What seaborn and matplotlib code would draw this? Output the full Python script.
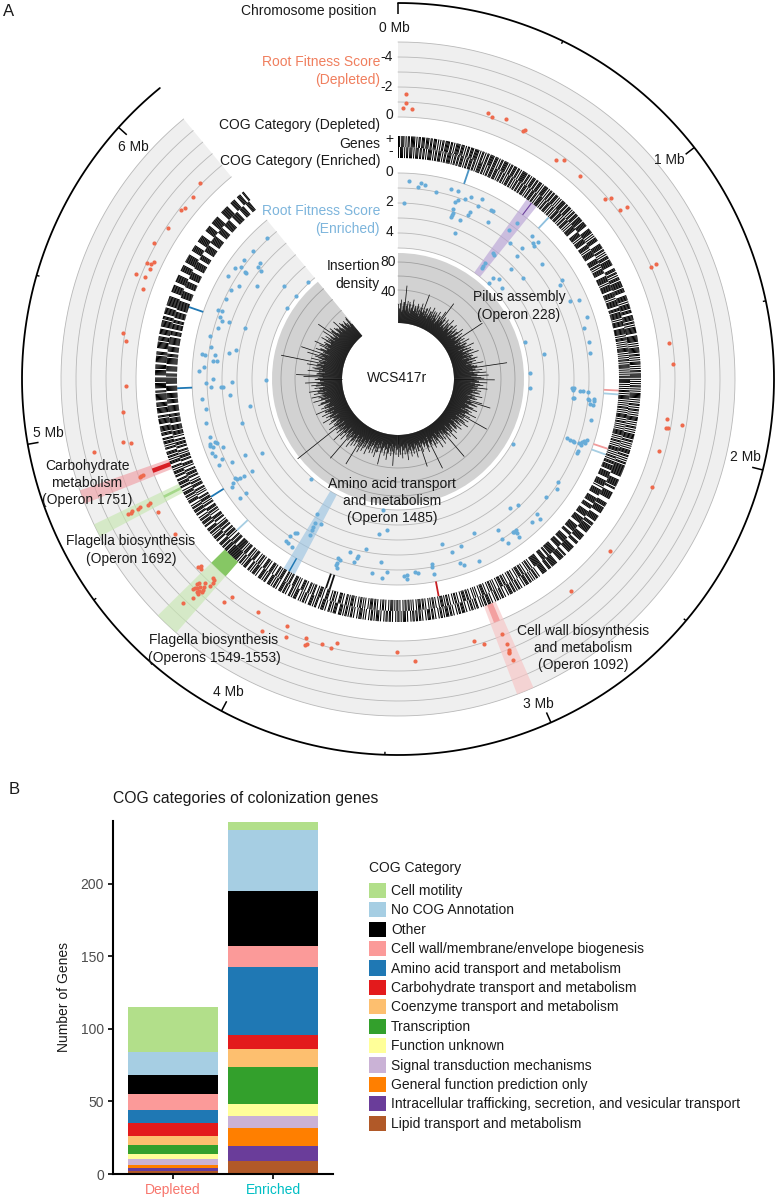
import numpy as np
import pandas as pd
import seaborn as sns
import matplotlib.pyplot as plt
from matplotlib.patches import Patch

W, H = 778, 1199

# positions on the ring are in degrees, 52 deg = 1 Mb, genome ends at 320.5 deg
mb_major = [0, 1, 2, 3, 4, 5, 6]
mb_labels = ["0 Mb", "1 Mb", "2 Mb", "3 Mb", "4 Mb", "5 Mb", "6 Mb"]
mb_minor = [0.5, 1.5, 2.5, 3.5, 4.5, 5.5]

dep_pos = [1.7, 1.7, 1.0, 3.0, 18.6, 19.8, 22.6, 26.8, 27, 35.8, 37.2, 41.8, 49, 49.6, 52.8, 53.1, 66.2, 66, 82.5, 86.9,
           98.5, 99.2, 100.4, 100.3, 105.5, 113.1, 129, 140.8, 157.8, 157.6, 157.8, 157.7, 158, 157.7, 163.9, 162.1,
           180.2, 176.5, 193.1, 193.9, 195.9, 199.6, 198.9, 199.2, 204.1, 203.5, 210.9, 208.4, 217.3, 218, 223.8, 223.1,
           224.1, 223.4, 223.6, 222.7, 222.9, 222.7, 224.4, 224.3, 224.3, 223.5, 222.3, 222.8, 222.3, 222.5, 223.9, 223.2, 223,
           226.8, 226.5, 226, 235.2, 241, 243.5, 243.3, 243.7, 243.4, 243.7, 243.4, 243.4, 249.3, 249.1, 249.3,
           256.5, 257, 256.5, 263.1, 268.5, 278, 279.4, 289.4, 292, 291.8, 294, 294.8, 295, 295.6, 299.1, 303.2, 307.9, 308.8,
           311.6, 314.8]
dep_score = [-1.53, -0.93, -0.6, -0.53, -1.27, -1.07, -1.33, -1.07, -1.13, -0.53, -0.87, -0.73, -0.8, -1.2, -1.13, -1.6, -1, -1.37, -0.73, -0.87,
             -0.67, -1.73, -0.67, -0.8, -0.6, -0.93, -0.73, -0.73, -0.87, -1.67, -2.17, -2.07, -2.2, -2.77, -0.73, -1.1,
             -0.73, -1.37, -0.6, -1, -0.93, -0.87, -1.2, -1.33, -0.6, -1.27, -0.67, -1.63, -0.8, -1.4, -3.2, -2.53,
             -1.97, -2.07, -1.67, -1.83, -2.09, -1.67, -1.67, -1.51, -2.13, -1.24, -1.2, -0.65, -0.89, -0.73, -1.87, -1.93, -1.53,
             -0.8, -0.64, -0.78, -0.6, -0.8, -1, -1.2, -1.73, -1.9, -2.33, -2.65, -2.47, -0.85, -0.93, -0.69,
             -3.4, -1.33, -0.87, -0.98, -0.69, -0.85, -1.13, -0.57, -0.73, -1.37, -0.64, -0.93, -0.73, -0.57, -1.13, -0.89, -0.89, -0.73,
             -0.8, -1.12]

enr_pos = [3.2, 2, 6, 6.6, 7.9, 11.6, 15.6, 17.8, 17.9, 18.6, 20.4, 21.8, 25, 24.9, 18, 18.5, 18, 18.1, 23.4, 23.2, 28.8, 29.6, 21.4, 30, 21.5,
           37.4, 36.7, 39.5, 37, 37.7, 36.9, 37, 36.9, 43.2, 45.6, 44.9, 45.6, 43.4, 44, 51.3, 45.6, 51.1, 43.2, 45.4, 43.5, 48.9,
           58.8, 59.8, 65.6, 66.5, 71.7, 74.6, 79.1, 82.3, 73.6, 80.4, 87.4, 94.1,
           93.1, 93.6, 92.8, 93.7, 93.6, 93.8, 96.1, 96, 95.8, 96.3, 96.3, 97.4, 97.6, 96.3, 102,
           109.1, 109.5, 109.5, 109.6, 109.5, 108.8, 108.4, 107.9, 109, 109.8, 111.7, 112.6, 119.4, 122.6, 124.7, 128.5,
           138.9, 136.5, 134.1, 134.6, 136.9, 146.4, 142.8, 142, 142.2, 142.9, 142.5, 147.1, 146.1, 153.7, 159.4, 165.2, 162.6,
           155.9, 161.5, 160.5, 169.5, 169.6, 169.6, 175, 174, 178.3, 177.5, 177.3,
           183.2, 184.3, 186.4, 187, 190.7, 195.5, 192.8, 193, 185.4, 193.4, 198.4, 197.8, 198.3, 198.4, 197.9, 187.7, 184.5,
           210.9, 208.1, 209.9, 209.8, 209.7, 209.4, 214.5, 213.7, 213.3, 214.7, 213.7, 212.4, 221,
           233.2, 233.1, 236.9, 237.7, 237.9, 238.1, 238.8, 237.9, 237.8, 241.3, 243.7, 243.6, 245.4, 244.3, 247.2, 248.2,
           249.7, 250.5, 250.9, 250.4, 250.9, 248.8, 252.8, 254.4, 257.2, 259.7, 261.1, 264.3, 264.6, 267.5, 267.5, 267.7,
           268.8, 268.9, 269.4, 269.9, 272.4, 273.4, 275.6, 275.6, 277.3, 277.1, 277.5, 278.8, 279.8, 280.3, 282.8, 285.9,
           288.4, 288.6, 288.3, 289.1, 291, 291.1, 294.9, 298, 300.3, 301.2, 302.7, 303.5, 304.3, 305.5, 304.9, 305,
           308.3, 308.6, 310, 309.2, 309.3, 307.6, 311.6, 317, 317.1]
enr_score = [0.6, 2.08, 0.91, 0.63, 0.74, 1.05, 0.63, 0.64, 1.38, 1.21, 0.97, 0.75, 0.59, 1.07, 1.86, 2.15, 2.47, 2.29, 1.69, 1.91, 0.94, 0.92, 2.41, 1.75, 3.37,
             0.69, 1.44, 2.07, 3.31, 3.35, 4.15, 4.35, 4.51, 0.72, 0.71, 1.03, 1.12, 1.8, 2.37, 1.52, 3.29, 3.07, 4.59, 4.31, 5, 4.57,
             1.03, 1.32, 1.18, 0.63, 0.55, 0.92, 0.83, 0.87, 5, 3.95, 5, 5,
             2.2, 2.09, 2.05, 1.64, 1.42, 1.13, 2.05, 1.04, 0.67, 0.99, 0.65, 0.89, 0.71, 2, 0.65,
             1.85, 1.63, 1.44, 1.33, 0.97, 0.87, 0.73, 0.54, 0.62, 0.83, 0.87, 0.9, 5, 1.11, 0.91, 1.2,
             2.41, 2.19, 0.9, 0.53, 0.71, 1.71, 0.97, 1.03, 0.83, 1.05, 0.52, 1.09, 0.65, 2.37, 1.93, 2.4, 1.71,
             0.51, 0.85, 0.67, 1.23, 1.08, 0.59, 0.87, 0.8, 0.64, 0.72, 0.47,
             0.89, 3.71, 5, 3.4, 2.25, 1.83, 1.72, 1.57, 1.57, 1.24, 1.2, 1.13, 0.9, 0.73, 0.53, 0.77, 0.49,
             3.29, 2.87, 2.7, 2.45, 2.2, 1.87, 1.09, 1.43, 1.49, 0.69, 0.63, 0.57, 5,
             1.15, 0.63, 0.6, 0.8, 1.36, 1.18, 1.1, 1.68, 2.28, 3.49, 2.42, 1.42, 0.92, 0.56, 0.57, 0.47,
             0.67, 0.97, 0.89, 0.49, 0.56, 1.31, 0.67, 2.98, 0.67, 3.77, 0.85, 0.65, 2.53, 2, 2.13, 1.3,
             0.98, 2.71, 5, 1.45, 0.52, 0.84, 1.43, 1.65, 0.65, 0.83, 1.49, 2.4, 1.15, 2.83, 0.95, 1.3,
             3.05, 1.93, 1.42, 1.24, 0.97, 1.25, 1.18, 1.19, 1.5, 0.57, 5, 2.55, 0.64, 0.91, 1.37, 1.47,
             2.13, 1.83, 1.75, 5, 4.01, 0.8, 0.91, 0.95, 5]

# insertion density, one value per degree (tall windows) ...
density = [24, 18, 30, 16, 27, 49, 22, 29, 14, 25, 20, 32, 17, 24, 21, 28, 15, 23, 30, 19,
           44, 21, 26, 16, 29, 18, 24, 31, 15, 22, 27, 19, 30, 16, 23, 34, 49, 20, 25, 17,
           28, 14, 23, 32, 18, 25, 16, 30, 21, 27, 15, 24, 33, 19, 29, 17, 59, 22, 28, 20,
           33, 18, 27, 23, 36, 21, 30, 17, 32, 24, 38, 20, 29, 26, 34, 22, 31, 25, 40, 23,
           31, 71, 28, 37, 24, 42, 30, 45, 29, 39, 53, 32, 43, 27, 38, 31, 44, 30, 36, 25,
           35, 24, 39, 29, 33, 22, 41, 53, 27, 36, 23, 32, 38, 21, 32, 28, 40, 25, 33, 60,
           26, 34, 20, 31, 37, 22, 29, 18, 32, 24, 27, 17, 30, 21, 25, 36, 19, 28, 23, 60,
           20, 27, 16, 31, 22, 18, 33, 21, 25, 15, 29, 19, 23, 57, 17, 24, 30, 18, 22, 16,
           27, 47, 19, 24, 15, 32, 21, 26, 17, 29, 20, 23, 33, 16, 25, 19, 30, 14, 22, 28,
           18, 25, 16, 40, 21, 27, 14, 23, 33, 19, 28, 17, 24, 41, 20, 15, 26, 33, 22, 29,
           18, 30, 21, 25, 34, 19, 27, 32, 22, 36, 29, 57, 24, 31, 20, 33, 26, 38, 23, 30,
           63, 28, 22, 35, 25, 32, 42, 23, 33, 27, 31, 95, 26, 38, 29, 22, 34, 30, 24, 40,
           28, 33, 23, 37, 27, 31, 43, 24, 34, 29, 22, 36, 32, 25, 41, 30, 33, 42, 27, 38,
           32, 44, 29, 36, 24, 40, 33, 48, 28, 35, 31, 50, 60, 33, 30, 45, 26, 39, 34, 47,
           34, 83, 32, 43, 29, 39, 50, 34, 60, 30, 41, 35, 27, 38, 46, 32, 34, 25, 40, 31,
           36, 28, 42, 24, 53, 33, 37, 22, 33, 30, 27, 39, 23, 32, 29, 20, 30, 25, 21, 32]

# ... and the windows in between, half a degree further on
density_low = [18, 25, 14, 22, 27, 16, 24, 19, 28, 13, 21, 26, 17, 23, 15, 25, 20, 12, 24, 18,
               22, 15, 26, 19, 13, 24, 17, 21, 27, 14, 23, 18, 12, 25, 20, 16, 22, 28, 13, 19,
               16, 24, 12, 21, 18, 26, 14, 20, 11, 23, 17, 25, 13, 19, 22, 15, 24, 18, 12, 21,
               15, 27, 19, 23, 13, 25, 18, 29, 21, 16, 24, 28, 14, 22, 30, 19, 26, 17, 23, 27,
               31, 24, 28, 20, 33, 26, 30, 22, 35, 25, 29, 32, 21, 34, 27, 24, 31, 23, 28, 33,
               22, 29, 18, 26, 31, 24, 20, 28, 33, 19, 25, 30, 22, 27, 17, 29, 24, 20, 26, 18,
               23, 15, 28, 20, 17, 25, 13, 22, 19, 26, 14, 21, 17, 24, 12, 20, 16, 23, 19, 13,
               18, 12, 24, 15, 20, 11, 22, 17, 13, 25, 14, 19, 21, 10, 18, 23, 12, 20, 15, 17,
               11, 20, 14, 24, 16, 12, 19, 22, 13, 21, 15, 10, 23, 17, 12, 20, 14, 25, 16, 11,
               19, 13, 23, 15, 11, 21, 17, 24, 12, 20, 14, 18, 22, 10, 19, 25, 13, 17, 21, 12,
               20, 15, 26, 18, 13, 24, 19, 16, 27, 21, 14, 23, 18, 25, 15, 22, 28, 17, 24, 19,
               16, 27, 21, 14, 25, 19, 23, 28, 17, 22, 26, 15, 29, 20, 24, 18, 27, 21, 25, 16,
               28, 22, 26, 19, 31, 24, 17, 29, 23, 27, 20, 32, 25, 18, 30, 22, 26, 24, 29, 21,
               33, 25, 30, 22, 34, 27, 31, 23, 28, 35, 24, 29, 26, 32, 22, 30, 36, 25, 28, 33,
               24, 30, 27, 22, 34, 25, 29, 32, 21, 28, 35, 26, 30, 23, 27, 31, 24, 33, 26, 29,
               22, 31, 25, 28, 20, 33, 26, 23, 30, 21, 28, 25, 19, 29, 24, 27, 22, 18, 30, 20]

# genes per strand, 1 = gene present in that 0.005 Mb bin
genes_plus = ("11011101011011110101101110111011011101010110111101101011110111"
              "01011011101111010110101101111011101011011110101101110110101111"
              "10110101110110111010111101011011011101010111101101110101101110"
              "11111011111000111110101011110001111101101010111011111100011101"
              "10101110111111011110001111101011111011100111110110101111110011"
              "11110101011111011010101110101011011110101010110101011111010101"
              "10101101010111101010110101011111011010101011110110101011011111"
              "11111100011111110110001111111000011110111111000111111001110111"
              "11110001111110011100011111110001101111100011111101110011111000"
              "10110101011011101001011010110111010010110101101001011101101010"
              "01101011010010111011010010110111010110100101101110100101101101"
              "10100101110101101001011011010010111010110100101011101001011010"
              "11010111001110101100101110100110101110010110101001110101100101"
              "10111001011010111001101011100101110101100111010110101111111111"
              "10111011011100110111010110111001101110110100110111011010011101"
              "01101110100110111011001101110101100111010110111001101011101100"
              "11101111100111110110011111011110011111101100111110111100111110"
              "11110011111101110001111110111100111110011111101110011111100111"
              "11111100001111111000111111100001111110001111111100001111110000"
              "11111110000011111100011111111000001111111100001111100011110011")
genes_minus = ("10111010110111010111011011010111101011011101011011110101101101"
               "11010110111011010111101101011011101110101101101011101101011011"
               "01101110101101110110101111010110111010110101110111010110111010"
               "10111110001111101011111001111010111111000111110110101111100011"
               "11110101111110011111010111111001110111111010111110011111101011"
               "10101010111101010101101011110101010110111101010101101011110101"
               "01011010101111010110101010111110101011010101111010101101011101"
               "11110011111100011111101001111110001111110011110001111110011111"
               "10001111111001110001111110011111000111111101100111100011111110"
               "01011010010110111010010110100101101110100101011010010111010010"
               "10100101101110100101101001011010111010010110101001011011101001"
               "01011011010010110101110100101101001011011101001010110100101110"
               "10110010111001011010011100101110100110101100101110010101110011"
               "01011001110101100101110010111001011010011101011001110101111110"
               "01110110010111011001101110100110111001011011100110101110110010"
               "10110011101101001101110110010111001101110101100110111011001011"
               "11011111001111101110011111100111101111100111110011111101110011"
               "11100111111011100111110011111110011110011111011100111111001111"
               "11111000111111100001111110001111111000011111110001111100001111"
               "11100011111111000011111100011111110000111111100011111000111100")

# position and colour of the COG ticks between genes and fitness tracks
enr_ticks_pos = [18.7, 43, 93, 94, 108.4, 110, 169.4, 198, 199, 226.8, 237.8, 267.6, 289]
enr_ticks_col = ["#4a94c4", "#8fc0de", "#f29b9b", "#a6cee3", "#f29b9b", "#a6cee3", "#c81e22", "#111111",
                 "#111111", "#a6cee3", "#1f78b4", "#1f78b4", "#1f78b4"]

# highlighted operons
hl_pos = [37.2, 209.5, 157.8, 223.3, 243.3, 249.5]
hl_wid = [3.2, 3.3, 3.0, 4.3, 2.3, 2.4]
hl_track = ["enr", "enr", "dep", "dep", "dep", "dep"]
hl_col = ["#b9a3d6", "#9cc4e2", "#f7c4c4", "#c8e7b2", "#c8e7b2", "#f0a0a6"]
hl_tick = ["#6a3d9a", "#1f78b4", "#f3a0a0", "#86c764", "#a5d88a", "#d81e24"]
hl_tick_w = [0.3, 0.4, 1.4, 4.3, 0.6, 1.0]

# panel B
cog_names = ["Cell motility", "No COG Annotation", "Other", "Cell wall/membrane/envelope biogenesis",
             "Amino acid transport and metabolism", "Carbohydrate transport and metabolism",
             "Coenzyme transport and metabolism", "Transcription", "Function unknown",
             "Signal transduction mechanisms", "General function prediction only",
             "Intracellular trafficking, secretion, and vesicular transport", "Lipid transport and metabolism"]
cog_colors = ["#B2DF8A", "#A6CEE3", "#000000", "#FB9A99", "#1F78B4", "#E31A1C", "#FDBF6F", "#33A02C", "#FFFF99",
              "#CAB2D6", "#FF7F00", "#6A3D9A", "#B15928"]
depleted_n = [31, 16, 13, 11, 9, 9, 6, 6, 4, 4, 2, 2, 2]
enriched_n = [6, 42, 38, 14, 47, 10, 12, 26, 8, 8, 13, 10, 9]

sns.set_theme(style="white")
plt.rcParams["font.family"] = ["Liberation Sans", "DejaVu Sans"]
plt.rcParams["text.color"] = "#1a1a1a"

fig = plt.figure(figsize=(W / 100, H / 100), dpi=100)


def put(x, y, s, **kw):
    kw.setdefault("fontsize", 10)
    kw.setdefault("ha", "center")
    kw.setdefault("va", "center")
    kw.setdefault("linespacing", 1.28)
    return fig.text(x / W, 1 - y / H, s, **kw)


# ---- panel A ----
cx, cy, rmax = 398, 379, 378
ax = fig.add_axes([(cx - rmax) / W, 1 - (cy + rmax) / H, 2 * rmax / W, 2 * rmax / H], projection="polar")
ax.set_theta_zero_location("N")
ax.set_theta_direction(-1)
END = 320.5


def th(d):
    return np.radians(np.asarray(d, dtype=float))


def ring(r0, r1, color, z=1):
    ax.bar(th(END / 2), r1 - r0, width=th(END), bottom=r0, color=color, linewidth=0, zorder=z)


def circle(r, color="#b8b8b8", lw=0.6, z=2):
    ax.plot(th(np.linspace(0, END, 200)), np.full(200, r), color=color, lw=lw, zorder=z)


ring(262, 337, "#efefef")
ring(131, 206, "#efefef")
ring(56, 126, "#d2d2d2")
for r in [262, 277, 292, 307, 322, 337]:
    circle(r)
for r in [131, 146, 161, 176, 191, 206]:
    circle(r)
for r in [75, 89, 103, 117]:
    circle(r, color="#a0a0a0")

# highlight bands
for p, w, t, c, tc, tw in zip(hl_pos, hl_wid, hl_track, hl_col, hl_tick, hl_tick_w):
    r0, r1 = (131, 221) if t == "enr" else (243, 337)
    ax.bar(th(p), r1 - r0, width=th(w), bottom=r0, color=c, alpha=0.65, linewidth=0, zorder=3)
    g0, g1 = (206, 221) if t == "enr" else (243, 262)
    ax.bar(th(p), g1 - g0, width=th(tw), bottom=g0, color=tc, linewidth=0, zorder=4)

# COG ticks
ax.vlines(th(enr_ticks_pos), 206, 221, colors=enr_ticks_col, lw=1.3, zorder=4)

# genes
for s, r0, r1 in [(genes_plus, 232, 243), (genes_minus, 221, 232)]:
    step = END / len(s)
    on = [i * step + step / 2 for i, c in enumerate(s) if c == "1"]
    ax.bar(th(on), r1 - r0, width=th(step), bottom=r0, color="black", linewidth=0, zorder=5)

# insertion density
for vals, off in [(density, 0.5), (density_low, 1.0)]:
    vals = np.array(vals)
    ax.vlines(th(np.arange(len(vals)) + off), 56, 57 + 0.75 * vals, colors="#111111", lw=0.55, zorder=5)

# fitness points
sns.scatterplot(x=th(dep_pos), y=262 - 15 * np.array(dep_score), ax=ax, color="#EE6A4D", s=9, linewidth=0, zorder=6)
sns.scatterplot(x=th(enr_pos), y=207 - 15 * np.array(enr_score), ax=ax, color="#68ACD8", s=9, linewidth=0, zorder=6)

# chromosome ring
ax.plot(th(np.linspace(0, 320.7, 300)), np.full(300, 376), color="black", lw=1.3, zorder=7)
ax.vlines(th(np.array(mb_major) * 52), 365, 376, colors="black", lw=1.1, zorder=7)
ax.vlines(th(np.array(mb_minor) * 52), 373, 376, colors="black", lw=1.0, zorder=7)

ax.set_ylim(0, rmax)
ax.set_axis_off()

for (x, y), s in zip([(394, 28), (669, 160), (745, 457), (538, 704), (228, 692), (48, 433), (133, 147)], mb_labels):
    put(x, y, s)

red = "#F07F5E"
blue = "#7DB5DC"
put(376, 11, "Chromosome position", ha="right")
put(380, 71, "Root Fitness Score\n(Depleted)", ha="right", color=red)
put(380, 125, "COG Category (Depleted)", ha="right")
put(380, 144, "Genes", ha="right")
put(380, 161, "COG Category (Enriched)", ha="right")
put(380, 220, "Root Fitness Score\n(Enriched)", ha="right", color=blue)
put(380, 275, "Insertion\ndensity", ha="right")
for y, s in [(57, "-4"), (87, "-2"), (115, "0"), (139, "+"), (151, "-"), (172, "0"), (202, "2"), (232, "4")]:
    put(393, y, s, ha="right")
for y, s in [(262, "80"), (292, "40")]:
    put(396, y, s, ha="right")
put(397, 378, "WCS417r")
put(519, 306, "Pilus assembly\n(Operon 228)")
put(392, 501, "Amino acid transport\nand metabolism\n(Operon 1485)")
put(87, 483, "Carbohydrate\nmetabolism\n(Operon 1751)")
put(131, 550, "Flagella biosynthesis\n(Operon 1692)")
put(214, 649, "Flagella biosynthesis\n(Operons 1549-1553)")
put(583, 648, "Cell wall biosynthesis\nand metabolism\n(Operon 1092)")
put(3, 11, "A", ha="left", fontsize=12)
put(9, 790, "B", ha="left", fontsize=12)

# ---- panel B ----
ax2 = fig.add_axes([113 / W, 1 - 1174 / H, 220 / W, 353 / H])
df = pd.DataFrame({"group": ["Depleted"] * 13 + ["Enriched"] * 13,
                   "cog": cog_names * 2,
                   "n": depleted_n + enriched_n})
sns.histplot(data=df, x="group", weights="n", hue="cog", hue_order=cog_names, palette=cog_colors,
             multiple="stack", discrete=True, shrink=0.9, linewidth=0, alpha=1, legend=False, ax=ax2)
ax2.set_xlim(-0.6, 1.6)
ax2.set_ylim(0, 243.4)
ax2.set_yticks([0, 50, 100, 150, 200])
ax2.set_xlabel("")
ax2.set_ylabel("")
sns.despine(ax=ax2)
for sp in ["left", "bottom"]:
    ax2.spines[sp].set_linewidth(1.5)
    ax2.spines[sp].set_color("black")
ax2.tick_params(axis="both", length=3.5, width=1.2, color="black", left=True, bottom=True, labelsize=10, pad=3)
ax2.tick_params(axis="y", labelcolor="#4d4d4d")
ax2.set_xticks([0, 1])
ax2.set_xticklabels(["Depleted", "Enriched"])
ax2.get_xticklabels()[0].set_color("#F8766D")
ax2.get_xticklabels()[1].set_color("#00BFC4")
put(64, 997, "Number of Genes", rotation=90)
put(113, 798, "COG categories of colonization genes", ha="left", fontsize=11.35)

handles = [Patch(facecolor=c, edgecolor="none") for c in cog_colors]
leg = ax2.legend(handles, cog_names, title="COG Category", loc="upper left", frameon=False,
                 bbox_to_anchor=(363 / W, 1 - 855 / H), bbox_transform=fig.transFigure, alignment="left",
                 fontsize=10, title_fontsize=10, handlelength=1.22, handleheight=1.3, labelspacing=0.3,
                 handletextpad=0.4, borderaxespad=0)
leg._legend_box.sep = 6

fig.savefig("out.png", dpi=100)
